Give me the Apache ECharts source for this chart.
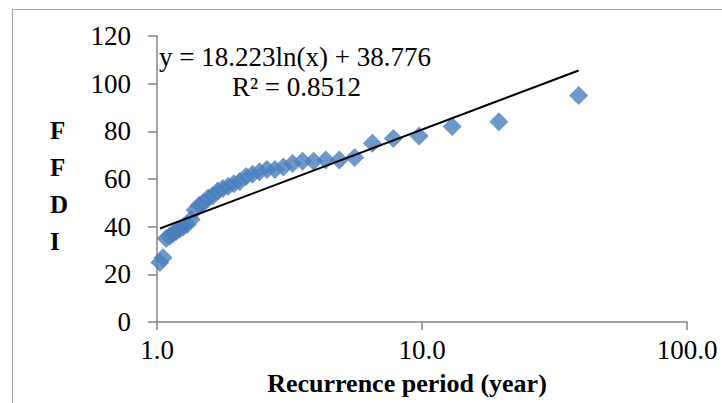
<!DOCTYPE html>
<html>
<head>
<meta charset="utf-8">
<script src="https://cdn.jsdelivr.net/npm/echarts@6/dist/echarts.min.js"></script>
<style>
html,body{margin:0;padding:0;background:#fff;}
#chart{width:722px;height:403px;}
</style>
</head>
<body>
<div id="chart"></div>
<script>
// Recurrence period (year)
const periods = [1.026, 1.054, 1.083, 1.114, 1.147, 1.182, 1.219, 1.258, 1.3, 1.345,
  1.393, 1.444, 1.5, 1.56, 1.625, 1.696, 1.773, 1.857, 1.95, 2.053,
  2.167, 2.294, 2.4375, 2.6, 2.786, 3.0, 3.25, 3.545, 3.9, 4.33,
  4.875, 5.57, 6.5, 7.8, 9.75, 13, 19.5, 39];
// FFDI values
const ffdi = [25, 27, 35, 36, 37, 38, 39, 40, 41, 43,
  47, 49, 50, 52, 53, 55, 56, 57, 58, 59,
  61, 62, 63, 64, 64, 65, 66.5, 67.5, 67.5, 68,
  68, 69, 75, 77, 78, 82, 84, 95];
const xTickValues = [1, 10, 100];
const xTickLabels = ['1.0', '10.0', '100.0'];
const trendSlope = 18.223;
const trendIntercept = 38.776;
const equationText = 'y = 18.223ln(x) + 38.776';
const r2Text = 'R\u00B2 = 0.8512';

const points = periods.map((p, i) => [p, ffdi[i]]);
const trendX = [periods[0], periods[periods.length - 1]];
const trend = trendX.map(x => [x, trendSlope * Math.log(x) + trendIntercept]);

const chart = echarts.init(document.getElementById('chart'), null, {renderer: 'svg'});
const serif = '"Liberation Serif", "DejaVu Serif", serif';
chart.setOption({
  animation: false,
  backgroundColor: '#ffffff',
  grid: {left: 157, right: 35, top: 36, bottom: 81},
  xAxis: {
    type: 'log', logBase: 10, min: 1, max: 100,
    name: 'Recurrence period (year)',
    nameLocation: 'middle', nameGap: 48,
    nameTextStyle: {fontFamily: serif, fontWeight: 'bold', fontSize: 26, color: '#000', padding: [0, 30, 0, 0]},
    axisLine: {lineStyle: {color: '#868686', width: 1.5}},
    axisTick: {show: true, length: 8, lineStyle: {color: '#868686', width: 1.5}},
    minorTick: {show: false},
    splitLine: {show: false},
    axisLabel: {
      fontFamily: serif, fontSize: 27, color: '#000', margin: 14,
      formatter: v => { const i = xTickValues.findIndex(t => Math.abs(t - v) < 1e-6); return i >= 0 ? xTickLabels[i] : ''; }
    }
  },
  yAxis: {
    type: 'value', min: 0, max: 120, interval: 20,
    axisLine: {show: true, lineStyle: {color: '#868686', width: 1.5}},
    axisTick: {show: true, length: 9, lineStyle: {color: '#868686', width: 1.5}},
    splitLine: {show: false},
    axisLabel: {fontFamily: serif, fontSize: 27, color: '#000', margin: 26}
  },
  graphic: [
    {type: 'rect', left: 10, top: 7, shape: {width: 711, height: 420}, style: {fill: 'none', stroke: '#a6a6a6', lineWidth: 1.2}, silent: true},
    {type: 'text', left: 50, top: 112, style: {text: 'F\nF\nD\nI', font: 'bold 25px ' + serif, fill: '#000', align: 'center', lineHeight: 37}},
    {type: 'text', left: 159, top: 43, style: {text: equationText, font: '27px ' + serif, fill: '#000'}},
    {type: 'text', left: 232, top: 73, style: {text: r2Text, font: '27px ' + serif, fill: '#000'}}
  ],
  series: [
    {
      type: 'scatter', data: points, symbol: 'diamond', symbolSize: 19,
      itemStyle: {color: '#4A7EBB'}, z: 2
    },
    {
      type: 'line', data: trend, symbol: 'none',
      lineStyle: {color: '#000', width: 2}, z: 3
    }
  ]
});
</script>
</body>
</html>
